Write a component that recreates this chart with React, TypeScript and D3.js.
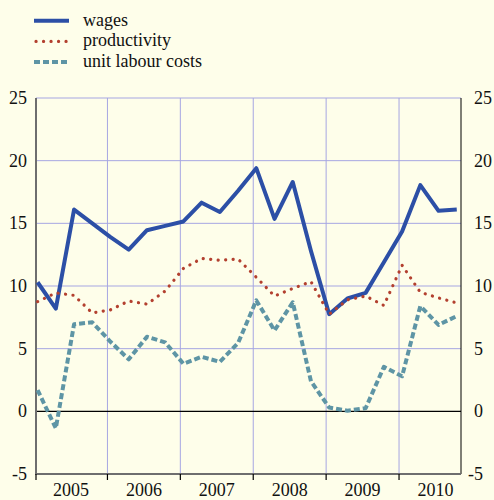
import React from "react";
import * as d3 from "d3";

const years = [2005, 2006, 2007, 2008, 2009, 2010];
const yTicks = [-5, 0, 5, 10, 15, 20, 25];

// quarterly % change, 2005Q1 .. 2010Q4
const wages = [
  10.3, 8.2, 16.1, 15.0, 13.9, 12.9, 14.45, 14.8, 15.15, 16.65, 15.9, 17.6,
  19.4, 15.35, 18.3, 12.8, 7.75, 9.0, 9.45, 11.9, 14.35, 18.05, 16.0, 16.1,
];
const productivity = [
  8.75, 9.45, 9.25, 7.85, 8.1, 8.8, 8.55, 9.6, 11.4, 12.2, 12.05, 12.15, 10.7,
  9.2, 9.8, 10.35, 7.75, 8.9, 9.2, 8.45, 11.65, 9.5, 9.05, 8.65,
];
const unitLabourCosts = [
  1.7, -1.35, 6.95, 7.1, 5.55, 4.15, 5.95, 5.5, 3.8, 4.35, 3.95, 5.45, 8.85,
  6.45, 8.7, 2.4, 0.3, 0.05, 0.25, 3.55, 2.8, 8.4, 6.9, 7.6,
];

const series = [
  { name: "wages", values: wages, color: "#2c4fa6", width: 4, dash: null, cap: "butt" },
  { name: "productivity", values: productivity, color: "#b3402f", width: 3.2, dash: "0.1 7.4", cap: "round" },
  { name: "unit labour costs", values: unitLabourCosts, color: "#5e95a5", width: 4, dash: "6 3", cap: "butt" },
];

const W = 494;
const H = 500;
const bg = "#fefeea";
const grid = "#a6a6e2";
const axisGray = "#6e6e6e";
const font = "'Liberation Serif', Tinos, 'Times New Roman', 'DejaVu Serif', serif";

export default function App() {
  const x = d3.scaleLinear().domain([2005.02, 2010.85]).range([36, 461]);
  const y = d3.scaleLinear().domain([-5, 25]).range([474, 98]);

  // data are dated mid-month of each quarter's first month
  const t = (i: number) => years[0] + Math.floor(i / 4) + (i % 4) / 4 + 0.042;

  const line = d3
    .line<number>()
    .x((_, i) => x(t(i)))
    .y((d) => y(d));

  const [x0, x1] = x.range();
  const [yb, yt] = y.range();

  return (
    <svg
      width={W}
      height={H}
      style={{ position: "absolute", left: 0, top: 0 }}
    >
      <rect width={W} height={H} fill={bg} />

      {/* horizontal grid */}
      {yTicks
        .filter((v) => v > 0)
        .map((v) => (
          <line key={v} x1={x0} x2={x1} y1={y(v)} y2={y(v)} stroke={grid} strokeWidth={1} />
        ))}
      {/* vertical grid at year boundaries */}
      {years.slice(1).map((yr) => (
        <line key={yr} x1={x(yr)} x2={x(yr)} y1={yt} y2={yb} stroke={grid} strokeWidth={1} />
      ))}

      {/* zero line */}
      <line x1={x0} x2={x1} y1={y(0)} y2={y(0)} stroke="#000" strokeWidth={1.2} />

      {/* axes */}
      <line x1={x1} x2={x1} y1={yt} y2={yb} stroke="#000" strokeWidth={1} />
      <line x1={x0} x2={x0} y1={yt} y2={yb + 1} stroke={axisGray} strokeWidth={2} />
      <line x1={x0} x2={x1} y1={yb} y2={yb} stroke={axisGray} strokeWidth={2} />
      {years.map((yr) => {
        const px = Math.max(x(yr), x0);
        return <line key={yr} x1={px} x2={px} y1={yb} y2={yb + 6} stroke="#000" strokeWidth={1.2} />;
      })}

      {/* series */}
      {series.map((s) => (
        <path
          key={s.name}
          d={line(s.values) || ""}
          fill="none"
          stroke={s.color}
          strokeWidth={s.width}
          strokeDasharray={s.dash || undefined}
          strokeLinecap={s.cap as any}
          strokeLinejoin="round"
        />
      ))}

      <g style={{ fontFamily: font }} fontSize={18} fill="#111">
        {/* y labels */}
        {yTicks.map((v) => (
          <g key={v}>
            <text x={27} y={y(v) + 6} textAnchor="end">
              {v}
            </text>
            <text x={v < 0 ? 468 : 474} y={y(v) + 6} textAnchor="start">
              {v}
            </text>
          </g>
        ))}

        {/* x labels */}
        {years.map((yr) => (
          <text key={yr} x={x(yr + 0.5)} y={496} textAnchor="middle">
            {yr}
          </text>
        ))}

        {/* legend */}
        {series.map((s, i) => (
          <g key={s.name} transform={`translate(0,${20.7 + i * 20.7})`}>
            <line
              x1={s.cap === "round" ? 36 : 34}
              x2={69}
              y1={0}
              y2={0}
              stroke={s.color}
              strokeWidth={s.width}
              strokeDasharray={s.dash || undefined}
              strokeLinecap={s.cap as any}
            />
            <text x={83} y={5}>
              {s.name}
            </text>
          </g>
        ))}
      </g>
    </svg>
  );
}
